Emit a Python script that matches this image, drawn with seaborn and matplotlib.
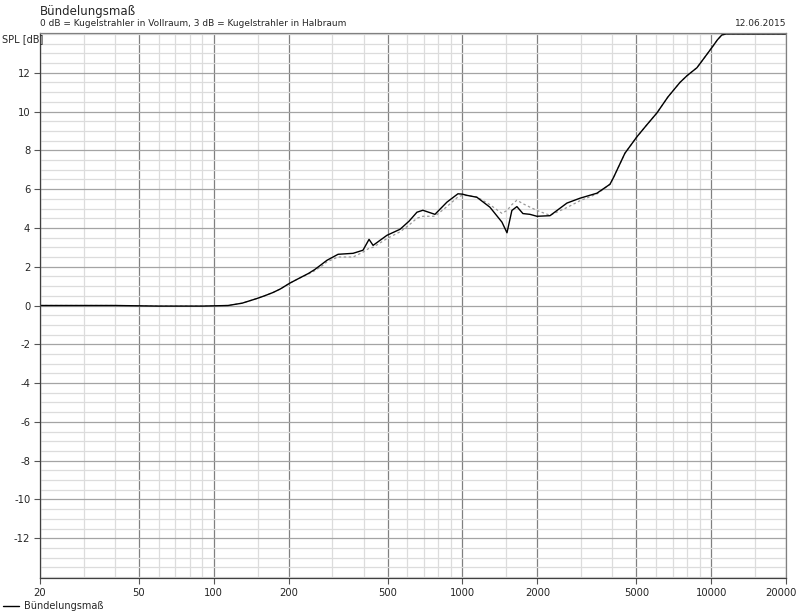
import numpy as np
import pandas as pd
import matplotlib
matplotlib.use("Agg")
import matplotlib.pyplot as plt
import matplotlib.transforms as mtransforms
import seaborn as sns
from matplotlib.ticker import FixedLocator, NullFormatter, MultipleLocator

# ---- data ----
freq = [20, 40, 60, 90, 114, 130, 149, 160, 173, 185, 202, 220, 240, 255, 270, 285, 316, 363, 398, 421, 437,
        497, 561, 610, 656, 693, 775, 866, 959, 1000, 1042, 1143, 1289, 1441, 1510, 1580, 1655,
        1750, 1868, 1993, 2248, 2630, 2966, 3472, 3918, 4050, 4500, 5030, 5500, 6054, 6700, 7490,
        8000, 8768, 9300, 10072, 10600, 11044, 11500, 20000]
spl_solid = [0, 0, -0.03, -0.03, 0, 0.12, 0.36, 0.5, 0.67, 0.85, 1.15, 1.4, 1.65, 1.86, 2.1, 2.33, 2.64, 2.69, 2.85, 3.41, 3.1,
             3.62, 3.93, 4.35, 4.81, 4.91, 4.7, 5.33, 5.76, 5.74, 5.68, 5.58, 5.07, 4.3, 3.75, 4.9, 5.1,
             4.74, 4.7, 4.6, 4.63, 5.28, 5.53, 5.79, 6.25, 6.6, 7.85, 8.7, 9.3, 9.93, 10.75, 11.5,
             11.85, 12.26, 12.7, 13.3, 13.7, 13.95, 14.0, 14.0]
spl_dashed = [0, 0, -0.03, -0.03, 0, 0.12, 0.36, 0.5, 0.67, 0.85, 1.15, 1.4, 1.62, 1.8, 2.0, 2.25, 2.5, 2.5, 2.75, 2.95, 3.0,
              3.45, 3.8, 4.15, 4.5, 4.6, 4.6, 5.1, 5.6, 5.68, 5.67, 5.6, 5.2, 4.75, 4.9, 5.2, 5.43,
              5.25, 5.07, 4.9, 4.65, 5.05, 5.4, 5.75, 6.25, 6.6, 7.85, 8.7, 9.3, 9.93, 10.75, 11.5,
              11.85, 12.26, 12.7, 13.3, 13.7, 13.95, 14.0, 14.0]
major_x = [20, 50, 100, 200, 500, 1000, 2000, 5000, 10000, 20000]
major_x_labels = ["20", "50", "100", "200", "500", "1000", "2000", "5000", "10000", "20000"]
y_ticks = [-12, -10, -8, -6, -4, -2, 0, 2, 4, 6, 8, 10, 12]

df = pd.DataFrame({"f": freq, "solid": spl_solid, "dashed": spl_dashed})

sns.set_style("white")
plt.rcParams['font.family'] = ['DejaVu Sans']

fig = plt.figure(figsize=(8, 6.16), dpi=100)
ax = fig.add_axes([40/800, 38/616, 746/800, 545/616])
ax.set_xscale("log")

sns.lineplot(data=df, x="f", y="dashed", ax=ax, color="#999999", lw=0.9,
             linestyle=(0, (2, 2)), legend=False)
sns.lineplot(data=df, x="f", y="solid", ax=ax, color="black", lw=1.0,
             label="Bündelungsmaß")

ax.set_xlim(20, 20000)
ax.set_ylim(-14.05, 14.05)

# ticks
ax.set_xticks(major_x)
ax.set_xticklabels(major_x_labels)
minor = []
for dec in [10, 100, 1000, 10000]:
    for m in [1.5, 2, 3, 4, 5, 6, 7, 8, 9]:
        v = dec * m
        if 20 < v < 20000 and v not in major_x:
            minor.append(v)
ax.xaxis.set_minor_locator(FixedLocator(minor))
ax.xaxis.set_minor_formatter(NullFormatter())
ax.set_yticks(y_ticks)
ax.set_yticklabels([str(v) for v in y_ticks])
ax.yaxis.set_minor_locator(MultipleLocator(0.5))

ax.grid(which="minor", axis="both", color="#dcdcdc", lw=0.9)
ax.grid(which="major", axis="x", color="#808080", lw=0.9)
ax.grid(which="major", axis="y", color="#a4a4a4", lw=0.9)
ax.set_axisbelow(True)

ax.tick_params(which="major", direction="out", length=4, width=0.8, color="#555555",
               labelsize=7.2, pad=3, left=True, bottom=True)
ax.tick_params(which="minor", length=0)
for s in ax.spines.values():
    s.set_color("#808080")
    s.set_linewidth(0.9)
ax.spines["left"].set_color("#404040")
ax.spines["bottom"].set_color("#404040")
ax.set_xlabel("")
ax.set_ylabel("")

# keep the last tick label inside the figure
last = ax.get_xticklabels()[-1]
last.set_horizontalalignment("right")
last.set_transform(last.get_transform() +
                   mtransforms.ScaledTranslation(11/100, 0, fig.dpi_scale_trans))

# texts
fig.text(40/800, 1 - 12/616, "Bündelungsmaß", fontsize=8.5, va="center", ha="left")
fig.text(40/800, 1 - 24/616, "0 dB = Kugelstrahler in Vollraum, 3 dB = Kugelstrahler in Halbraum",
         fontsize=6.5, va="center", ha="left")
fig.text(786/800, 1 - 24/616, "12.06.2015", fontsize=6.5, va="center", ha="right")
fig.text(2/800, 1 - 39/616, "SPL [dB]", fontsize=7, va="center", ha="left")

ax.legend(loc="lower left", bbox_to_anchor=(-0.002, 0), bbox_transform=fig.transFigure,
          frameon=False, fontsize=7, handlelength=1.6, handletextpad=0.5,
          borderaxespad=0.1)

fig.savefig("out.png", dpi=100, facecolor="white")
